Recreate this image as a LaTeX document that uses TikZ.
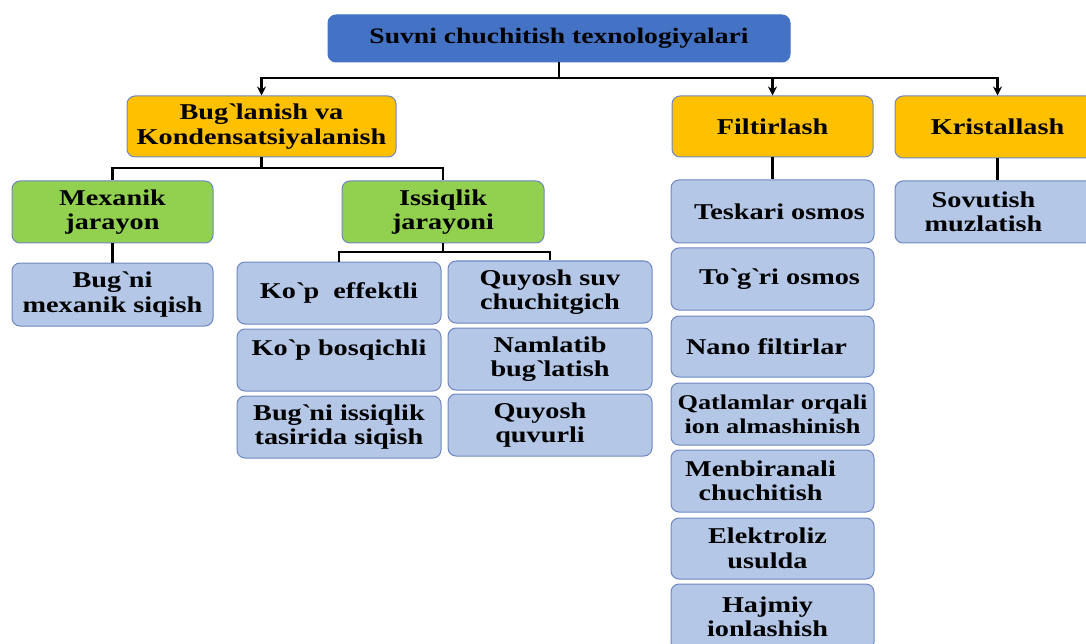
\documentclass[tikz,border=0pt]{standalone}
\usepackage{fontspec}
\setmainfont{Liberation Serif}[FakeStretch=1.25]
\usetikzlibrary{arrows.meta}
\definecolor{topblue}{HTML}{4472C4}
\definecolor{gold}{HTML}{FFC000}
\definecolor{leaf}{HTML}{92D050}
\definecolor{pale}{HTML}{B4C7E7}
\definecolor{edge}{RGB}{110,135,192}
\newcommand\bq{\textasciigrave}
\begin{document}
\begin{tikzpicture}[x=1pt,y=-1pt,
  bx/.style={rounded corners=8pt, draw=edge, line width=1pt, align=center,
    inner sep=0pt, font=\bfseries\fontsize{22.6}{24.5}\selectfont, text=black},
  topbox/.style={bx, fill=topblue, draw=topblue},
  l1/.style={bx, fill=gold},
  l2/.style={bx, fill=leaf},
  l3/.style={bx, fill=pale},
  conn/.style={line width=2.2pt, black},
  arr/.style={conn, -{Stealth[length=9pt,width=9pt]}}]
\useasboundingbox (0,0) rectangle (1086,644);
\clip (0,0) rectangle (1086,644);
% top
\node[topbox, minimum width=462pt, minimum height=47pt, font=\bfseries\fontsize{22.1}{24}\selectfont] (top) at (559,38.5) {Suvni chuchitish texnologiyalari};
% level 1
\node[l1, minimum width=269pt, minimum height=61pt] (bug) at (261.5,126.5) {Bug\bq{}lanish va\\Kondensatsiyalanish};
\node[l1, minimum width=201pt, minimum height=61pt] (filt) at (772.5,126.5) {Filtirlash};
\node[l1, minimum width=205pt, minimum height=62pt] (krist) at (997.5,127) {Kristallash};
% level 2
\node[l2, minimum width=201pt, minimum height=62pt] (mex) at (112.5,212) {Mexanik\\jarayon};
\node[l2, minimum width=202pt, minimum height=62pt] (iss) at (443,212) {Issiqlik\\jarayoni};
% level 3 left
\node[l3, minimum width=201pt, minimum height=63pt] (bm) at (112.5,294.5) {Bug\bq{}ni\\mexanik siqish};
\node[l3, minimum width=204pt, minimum height=62pt] (ke) at (339,293) {Ko\bq{}p\ \ effektli};
\node[l3, minimum width=204pt, minimum height=62pt] (kb) at (339,360) {Ko\bq{}p bosqichli\\\mbox{}};
\node[l3, minimum width=204pt, minimum height=62pt] (bi) at (339,427) {Bug\bq{}ni issiqlik\\tasirida siqish};
\node[l3, minimum width=204pt, minimum height=62pt] (qs) at (550,292) {Quyosh suv\\chuchitgich};
\node[l3, minimum width=204pt, minimum height=62pt] (nb) at (550,359) {Namlatib\\bug\bq{}latish};
\node[l3, minimum width=204pt, minimum height=62pt] (qq) at (550,425) {\hspace*{-20pt}Quyosh\\\hspace*{-20pt}quvurli};
% filtration column
\node[l3, minimum width=203pt, minimum height=63pt] (f1) at (772.5,211.5) {\hspace*{14pt}Teskari osmos};
\node[l3, minimum width=203pt, minimum height=62pt] (f2) at (772.5,279) {\hspace*{14pt}To\bq{}g\bq{}ri osmos};
\node[l3, minimum width=203pt, minimum height=61pt] (f3) at (772.5,346.5) {\hspace*{-12pt}Nano filtirlar};
\node[l3, minimum width=203pt, minimum height=62pt, font=\bfseries\fontsize{21}{24}\selectfont] (f4) at (772.5,414) {Qatlamlar orqali\\ion almashinish};
\node[l3, minimum width=203pt, minimum height=62pt] (f5) at (772.5,481) {\hspace*{-24pt}Menbiranali\\\hspace*{-24pt}chuchitish};
\node[l3, minimum width=203pt, minimum height=61pt] (f6) at (772.5,548.5) {\hspace*{-10pt}Elektroliz\\\hspace*{-10pt}usulda};
\node[l3, minimum width=203pt, minimum height=66pt] (f7) at (772.5,617) {\hspace*{-10pt}Hajmiy\\\hspace*{-10pt}ionlashish};
% crystallisation
\node[l3, minimum width=205pt, minimum height=62pt] (sov) at (997.5,212) {\hspace*{-28pt}Sovutish\\\hspace*{-28pt}muzlatish};
% connectors
\coordinate (h0) at (0,78);
\coordinate (h1) at (0,168);
\coordinate (h2) at (0,252);
\draw[arr] (top.south) -- (top.south |- h0) -| (bug.north);
\draw[arr] (top.south) -- (top.south |- h0) -| (filt.north);
\draw[arr] (top.south) -- (top.south |- h0) -| (krist.north);
\draw[conn] (bug.south) -- (bug.south |- h1) -| (mex.north);
\draw[conn] (bug.south) -- (bug.south |- h1) -| (iss.north);
\draw[conn] (mex.south) -- (bm.north);
\draw[conn] (iss.south) -- (iss.south |- h2) -| (ke.north);
\draw[conn] (iss.south) -- (iss.south |- h2) -| (qs.north);
\draw[conn] (filt.south) -- (f1.north);
\draw[conn] (krist.south) -- (sov.north);
\end{tikzpicture}
\end{document}
